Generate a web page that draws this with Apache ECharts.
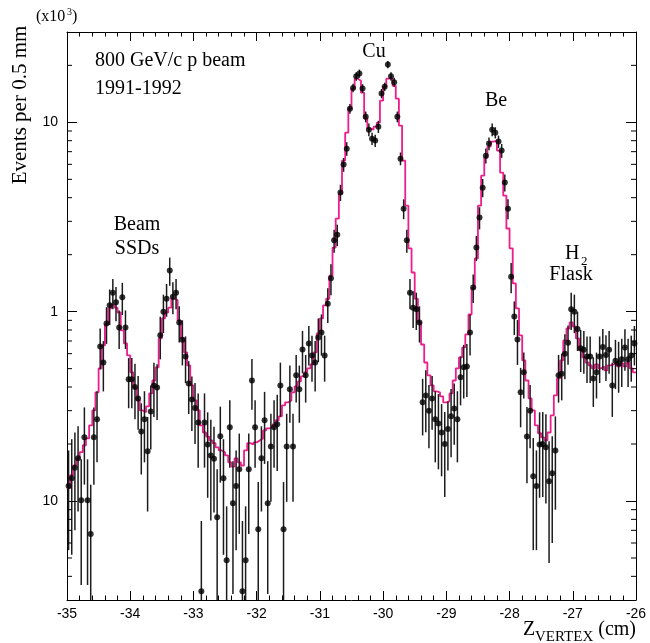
<!DOCTYPE html>
<html>
<head>
<meta charset="utf-8">
<script src="https://cdn.jsdelivr.net/npm/echarts@6/dist/echarts.min.js"></script>
<style>
html,body{margin:0;padding:0;background:#fff;}
#chart{width:650px;height:643px;}
</style>
</head>
<body>
<div id="chart"></div>
<script>
// Vertex z distribution, 0.5 mm bins from -35 cm to -26 cm (counts in units of 10^3)
const Z_MIN = -35, Z_MAX = -26, BIN = 0.05;
const Y_MIN = 0.03, Y_MAX = 30;

// Monte Carlo histogram (magenta step line)
const mcCounts = [
  0.117,0.137,0.154,0.168,0.181,0.197,0.214,0.251,0.301,0.375,
  0.502,0.663,0.856,1.04,1.09,1.05,0.99,0.796,0.680,0.587,
  0.478,0.398,0.340,0.301,0.294,0.316,0.370,0.433,0.508,0.722,
  0.921,0.99,1.05,1.17,1.15,0.899,0.722,0.609,0.520,0.408,
  0.340,0.301,0.251,0.230,0.219,0.209,0.202,0.192,0.185,0.181,
  0.174,0.160,0.152,0.168,0.160,0.154,0.185,0.202,0.199,0.204,
  0.209,0.214,0.236,0.242,0.245,0.254,0.267,0.280,0.320,0.332,
  0.340,0.375,0.403,0.428,0.455,0.478,0.502,0.527,0.609,0.767,
  0.921,1.08,1.17,1.55,2.18,3.10,4.20,6.28,8.82,11.81,
  15.06,17.0,16.6,14.34,10.46,9.26,9.15,9.49,9.96,13.02,
  15.43,17.0,17.0,15.6,13.34,9.61,6.28,3.63,2.16,1.61,
  1.17,0.877,0.671,0.539,0.461,0.408,0.379,0.375,0.357,0.332,
  0.336,0.370,0.433,0.502,0.573,0.647,0.758,0.966,1.33,1.91,
  3.63,5.23,6.51,7.44,7.91,8.01,7.09,5.43,4.10,2.75,
  2.16,1.41,1.04,0.749,0.553,0.433,0.348,0.301,0.251,0.228,
  0.217,0.209,0.230,0.283,0.361,0.444,0.553,0.705,0.815,0.877,
  0.835,0.722,0.624,0.573,0.539,0.520,0.502,0.527,0.502,0.514,
  0.490,0.520,0.527,0.539,0.514,0.533,0.514,0.539,0.502,0.478
];

// Measured data (black points)
const dataCounts = [
  0.12,0.132,0.15,0.168,0.101,0.217,0.101,0.067,0.217,0.270,
  0.655,0.539,0.866,1.08,1.26,1.12,0.825,1.19,0.825,0.439,
  0.439,0.40,0.348,0.233,0.270,0.183,0.297,0.408,0.398,0.75,
  1.00,1.17,1.65,1.20,1.26,0.877,0.71,0.580,0.418,0.344,
  0.31,0.26,0.0334,0.26,0.199,0.174,0.167,0.082,0.22,0.132,
  0.0487,0.245,0.0973,0.120,0.147,0.0334,0.0487,0.147,0.433,0.245,
  0.0709,0.168,0.267,0.0973,0.194,0.245,0.254,0.408,0.0709,0.194,
  0.389,0.194,0.461,0.389,0.632,0.461,0.680,0.587,0.539,0.731,
  0.777,0.587,1.10,1.50,2.38,2.55,4.26,5.98,7.26,11.8,
  15.2,17.5,18.1,15.1,10.7,9.15,8.20,8.01,9.49,14.2,
  15.4,20.2,17.5,16.3,10.7,6.43,3.50,2.38,1.26,1.05,
  1.03,0.877,0.332,0.361,0.30,0.348,0.270,0.257,0.23,0.20,
  0.24,0.28,0.308,0.27,0.450,0.508,0.514,0.777,1.34,2.18,
  3.14,4.52,6.67,7.72,9.15,8.82,7.91,7.09,4.81,3.50,
  1.53,0.943,0.713,0.375,0.478,0.219,0.30,0.135,0.12,0.199,
  0.20,0.192,0.127,0.14,0.185,0.461,0.47,0.60,0.685,1.03,
  1.00,0.81,0.64,0.63,0.58,0.58,0.444,0.478,0.58,0.65,
  0.59,0.63,0.408,0.55,0.533,0.56,0.647,0.56,0.587,0.68
];

// Statistical errors of the measured points
const dataErrors = [
  0.065,0.08,0.08,0.08,0.065,0.095,0.065,0.055,0.095,0.11,
  0.16,0.16,0.19,0.23,0.23,0.23,0.19,0.23,0.19,0.13,
  0.13,0.13,0.11,0.095,0.11,0.095,0.11,0.13,0.13,0.19,
  0.23,0.23,0.28,0.23,0.23,0.19,0.19,0.16,0.13,0.11,
  0.11,0.11,0.045,0.11,0.095,0.095,0.08,0.065,0.095,0.08,
  0.045,0.095,0.065,0.065,0.08,0.045,0.045,0.08,0.13,0.095,
  0.055,0.08,0.11,0.065,0.095,0.095,0.11,0.13,0.055,0.095,
  0.13,0.095,0.13,0.13,0.16,0.13,0.16,0.16,0.16,0.19,
  0.19,0.16,0.23,0.28,0.33,0.33,0.42,0.5,0.6,0.7,
  0.8,0.9,0.9,0.8,0.7,0.7,0.6,0.6,0.7,0.8,
  0.8,0.9,0.9,0.9,0.7,0.5,0.42,0.33,0.23,0.23,
  0.23,0.19,0.11,0.13,0.11,0.11,0.11,0.11,0.095,0.095,
  0.095,0.11,0.11,0.11,0.13,0.16,0.16,0.19,0.23,0.33,
  0.42,0.5,0.6,0.6,0.7,0.6,0.6,0.6,0.5,0.42,
  0.28,0.19,0.19,0.13,0.13,0.095,0.11,0.08,0.065,0.095,
  0.095,0.095,0.08,0.08,0.095,0.13,0.13,0.16,0.16,0.23,
  0.23,0.19,0.16,0.16,0.16,0.16,0.13,0.13,0.16,0.16,
  0.16,0.16,0.13,0.16,0.16,0.16,0.16,0.16,0.16,0.16
];

// Axis ticks
const yMinorTicks = [0.04,0.05,0.06,0.07,0.08,0.09,0.2,0.3,0.4,0.5,0.6,0.7,0.8,0.9,2,3,4,5,6,7,8,9,20];
const yTickText = { '-1': '10', '0': '1', '1': '10' };

const SERIF = '"Liberation Serif", "Times New Roman", serif';
const SANS = '"Liberation Sans", Arial, sans-serif';
const PINK = '#ee1d8c';

// Histogram as left-edge steps, closed at the upper edge
const mcLine = mcCounts.map((v, i) => [Z_MIN + BIN * i, v]);
mcLine.push([Z_MAX, mcCounts[mcCounts.length - 1]]);

const points = dataCounts.map((v, i) => [Z_MIN + BIN * (i + 0.5), v]);
const bars = dataCounts.map((v, i) => [
  Z_MIN + BIN * (i + 0.5),
  Math.max(v - dataErrors[i], Y_MIN),
  Math.min(v + dataErrors[i], Y_MAX)
]);

const axisLineStyle = { lineStyle: { color: '#000', width: 1 } };

function xAxisDef(pos, labels) {
  return {
    type: 'value', position: pos, min: Z_MIN, max: Z_MAX, interval: 1,
    axisLine: { show: true, onZero: false, ...axisLineStyle },
    axisTick: { show: true, inside: true, length: 9, lineStyle: { color: '#000' } },
    minorTick: { show: true, splitNumber: 5, length: 4.5, lineStyle: { color: '#000' } },
    splitLine: { show: false },
    axisLabel: { show: labels, color: '#000', fontFamily: SANS, fontSize: 14, margin: 7 }
  };
}
function yAxisDef(pos, labels) {
  return {
    type: 'log', logBase: 10, position: pos, min: Y_MIN, max: Y_MAX,
    axisLine: { show: true, onZero: false, ...axisLineStyle },
    axisTick: { show: true, inside: true, length: 10, lineStyle: { color: '#000' } },
    splitLine: { show: false },
    axisLabel: {
      show: labels, color: '#000', fontFamily: SANS, fontSize: 14, margin: 9,
      showMinLabel: false, showMaxLabel: false,
      formatter: v => yTickText[String(Math.round(Math.log10(v)))] || ''
    }
  };
}

function txt(x, y, text, size, align, extra) {
  return Object.assign({
    type: 'text', x: x, y: y, silent: true,
    style: {
      text: text, font: size + 'px ' + SERIF, fill: '#000',
      align: align, verticalAlign: 'middle',
      textAlign: align, textVerticalAlign: 'middle'
    }
  }, extra || {});
}

const chart = echarts.init(document.getElementById('chart'), null, { renderer: 'canvas' });
chart.setOption({
  animation: false,
  backgroundColor: '#fff',
  grid: { left: 67, right: 14, top: 32, bottom: 43, containLabel: false },
  xAxis: [xAxisDef('bottom', true), xAxisDef('top', false)],
  yAxis: [yAxisDef('left', true), yAxisDef('right', false)],
  series: [
    {
      type: 'line', name: 'mc', xAxisIndex: 0, yAxisIndex: 0,
      data: mcLine, step: 'end', showSymbol: false, symbol: 'none',
      lineStyle: { color: PINK, width: 1.8 }, z: 3, clip: true
    },
    {
      type: 'custom', name: 'errors', xAxisIndex: 0, yAxisIndex: 0,
      data: bars, z: 4, clip: true,
      encode: { x: 0, y: [1, 2] },
      renderItem: function (params, api) {
        const p1 = api.coord([api.value(0), api.value(1)]);
        const p2 = api.coord([api.value(0), api.value(2)]);
        return {
          type: 'line',
          shape: { x1: p1[0], y1: p1[1], x2: p2[0], y2: p2[1] },
          style: { stroke: '#1c1c1c', lineWidth: 1.5 }
        };
      }
    },
    {
      type: 'scatter', name: 'data', xAxisIndex: 0, yAxisIndex: 0,
      data: points, symbol: 'circle', symbolSize: 6,
      itemStyle: { color: '#000' }, z: 5
    },
    {
      type: 'custom', name: 'minorTicks', xAxisIndex: 0, yAxisIndex: 0,
      data: yMinorTicks.map(v => [Z_MIN, v]), z: 6, silent: true,
      renderItem: function (params, api) {
        const y = api.coord([Z_MIN, api.value(1)])[1];
        const cs = params.coordSys;
        const st = { stroke: '#000', lineWidth: 1 };
        return {
          type: 'group',
          children: [
            { type: 'line', shape: { x1: cs.x, y1: y, x2: cs.x + 5, y2: y }, style: st },
            { type: 'line', shape: { x1: cs.x + cs.width, y1: y, x2: cs.x + cs.width - 5, y2: y }, style: st }
          ]
        };
      }
    }
  ],
  graphic: [
    txt(36, 17, '(x10', 16, 'left'),
    txt(67, 12, '3', 10, 'left'),
    txt(72, 17, ')', 16, 'left'),
    txt(20, 105, 'Events per 0.5 mm', 21, 'center', { rotation: Math.PI / 2 }),
    txt(95, 61, '800 GeV/c p beam', 20, 'left'),
    txt(95, 89, '1991-1992', 20, 'left'),
    txt(374, 52, 'Cu', 20, 'center'),
    txt(496, 101, 'Be', 20, 'center'),
    txt(137, 225, 'Beam', 20, 'center'),
    txt(137, 249, 'SSDs', 20, 'center'),
    txt(565, 254, 'H', 20, 'left'),
    txt(581, 262, '2', 13, 'left'),
    txt(571, 275, 'Flask', 20, 'center'),
    txt(523, 630, 'Z', 20, 'left'),
    txt(535, 637, 'VERTEX', 15, 'left'),
    txt(636, 630, '(cm)', 20, 'right')
  ]
});
</script>
</body>
</html>
